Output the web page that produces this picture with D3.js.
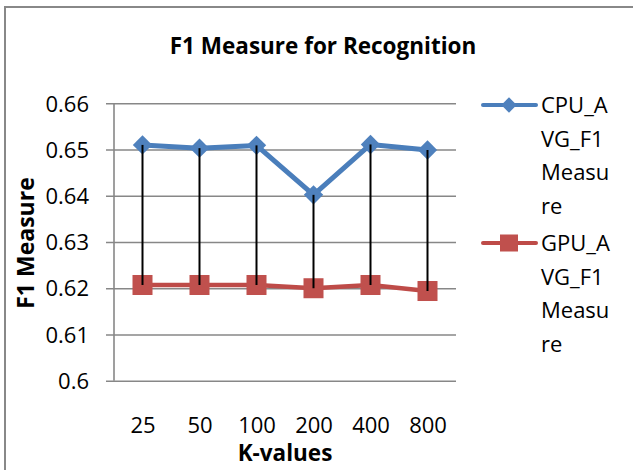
<!DOCTYPE html>
<html>
<head>
<meta charset="utf-8">
<script src="https://cdn.jsdelivr.net/npm/d3@7"></script>
<style>
  html, body { margin: 0; padding: 0; background: #ffffff; }
  svg { display: block; }
  text { font-family: "Open Sans", "Liberation Sans", sans-serif; fill: #000; }
</style>
</head>
<body>
<svg id="chart" width="633" height="470"></svg>
<script>
// K-values on the x axis
const kValues = ["25", "50", "100", "200", "400", "800"];
// Average F1 measure per K
const cpuF1 = [0.6510, 0.6503, 0.6509, 0.6402, 0.6511, 0.6499];
const gpuF1 = [0.6207, 0.6207, 0.6207, 0.6200, 0.6207, 0.6194];
// Y axis ticks
const yTicks = [0.6, 0.61, 0.62, 0.63, 0.64, 0.65, 0.66];
const seriesNames = [["CPU_A", "VG_F1", "Measu", "re"], ["GPU_A", "VG_F1", "Measu", "re"]];

const svg = d3.select("#chart");
const W = 633, H = 470;

// outer chart frame
svg.append("rect")
  .attr("x", 5).attr("y", 7)
  .attr("width", W + 10).attr("height", H + 10)
  .attr("fill", "#fff").attr("stroke", "#888").attr("stroke-width", 2);

const plot = { left: 114, right: 456, top: 103.3, bottom: 380.7 };

const x = d3.scalePoint().domain(kValues).range([plot.left, plot.right]).padding(0.5);
const y = d3.scaleLinear().domain([0.6, 0.66]).range([plot.bottom, plot.top]);

// horizontal gridlines + tick marks
const yAxis = d3.axisLeft(y)
  .tickValues(yTicks)
  .tickSize(-(plot.right - plot.left))
  .tickFormat(d3.format("~g"))
  .tickPadding(0);

const gy = svg.append("g")
  .attr("transform", `translate(${plot.left},0)`)
  .call(yAxis);
gy.select(".domain").remove();
gy.selectAll(".tick line")
  .attr("x1", -8)
  .attr("stroke", "#878787").attr("stroke-width", 1.6);
gy.selectAll(".tick text")
  .attr("x", -25)
  .attr("dy", "0.35em")
  .style("font-size", "22px")
  .style("fill", "#000");

// vertical axis line
svg.append("line")
  .attr("x1", plot.left).attr("x2", plot.left)
  .attr("y1", plot.top).attr("y2", plot.bottom)
  .attr("stroke", "#878787").attr("stroke-width", 1.6);

// category labels
const gx = svg.append("g")
  .attr("transform", `translate(0,${plot.bottom})`)
  .call(d3.axisBottom(x).tickSize(0).tickPadding(0));
gx.select(".domain").remove();
gx.selectAll(".tick text")
  .attr("y", 52)
  .attr("dy", 0)
  .style("font-size", "22px")
  .style("fill", "#000");

const line = d3.line().x((d, i) => x(kValues[i])).y(d => y(d));

// GPU series
svg.append("path")
  .datum(gpuF1)
  .attr("d", line)
  .attr("fill", "none").attr("stroke", "#BE4B48").attr("stroke-width", 4.5)
  .attr("stroke-linejoin", "round");
svg.append("g").selectAll("rect")
  .data(gpuF1)
  .join("rect")
  .attr("x", (d, i) => x(kValues[i]) - 10)
  .attr("y", d => y(d) - 10)
  .attr("width", 20).attr("height", 20)
  .attr("fill", "#C0504D");

// CPU series
svg.append("path")
  .datum(cpuF1)
  .attr("d", line)
  .attr("fill", "none").attr("stroke", "#4A7EBB").attr("stroke-width", 5)
  .attr("stroke-linejoin", "round");
const diamond = d3.symbol().type(d3.symbolDiamond2).size(240);
svg.append("g").selectAll("path")
  .data(cpuF1)
  .join("path")
  .attr("d", diamond)
  .attr("transform", (d, i) => `translate(${x(kValues[i])},${y(d)})`)
  .attr("fill", "#4F81BD");

// high-low drop lines, drawn on top of the markers
svg.append("g").selectAll("line")
  .data(kValues)
  .join("line")
  .attr("x1", d => x(d)).attr("x2", d => x(d))
  .attr("y1", (d, i) => y(cpuF1[i]))
  .attr("y2", (d, i) => y(gpuF1[i]))
  .attr("stroke", "#000").attr("stroke-width", 2);

// title
svg.append("text")
  .attr("x", 323).attr("y", 54)
  .attr("text-anchor", "middle")
  .style("font-size", "22.5px").style("font-weight", "bold")
  .text("F1 Measure for Recognition");

// axis titles
svg.append("text")
  .attr("x", (plot.left + plot.right) / 2).attr("y", 461)
  .attr("text-anchor", "middle")
  .style("font-size", "22.5px").style("font-weight", "bold")
  .text("K-values");

svg.append("text")
  .attr("transform", `translate(34,${(plot.top + plot.bottom) / 2 + 1}) rotate(-90)`)
  .attr("text-anchor", "middle")
  .style("font-size", "23px").style("font-weight", "bold")
  .text("F1 Measure");

// legend
const legend = svg.append("g");
const legendRows = [
  { y: 105, color: "#4A7EBB", fill: "#4F81BD", kind: "diamond", lines: seriesNames[0] },
  { y: 243, color: "#BE4B48", fill: "#C0504D", kind: "square", lines: seriesNames[1] }
];
legendRows.forEach(r => {
  legend.append("line")
    .attr("x1", 483).attr("x2", 536)
    .attr("y1", r.y).attr("y2", r.y)
    .attr("stroke", r.color).attr("stroke-width", 4)
    .attr("stroke-linecap", "round");
  if (r.kind === "diamond") {
    legend.append("path")
      .attr("d", d3.symbol().type(d3.symbolDiamond2).size(150)())
      .attr("transform", `translate(509,${r.y})`)
      .attr("fill", r.fill);
  } else {
    legend.append("rect")
      .attr("x", 500).attr("y", r.y - 8.5)
      .attr("width", 18).attr("height", 17)
      .attr("fill", r.fill);
  }
  r.lines.forEach((t, i) => {
    legend.append("text")
      .attr("x", 541).attr("y", r.y + 8 + i * 33.7)
      .style("font-size", "22px")
      .text(t);
  });
});
</script>
</body>
</html>
